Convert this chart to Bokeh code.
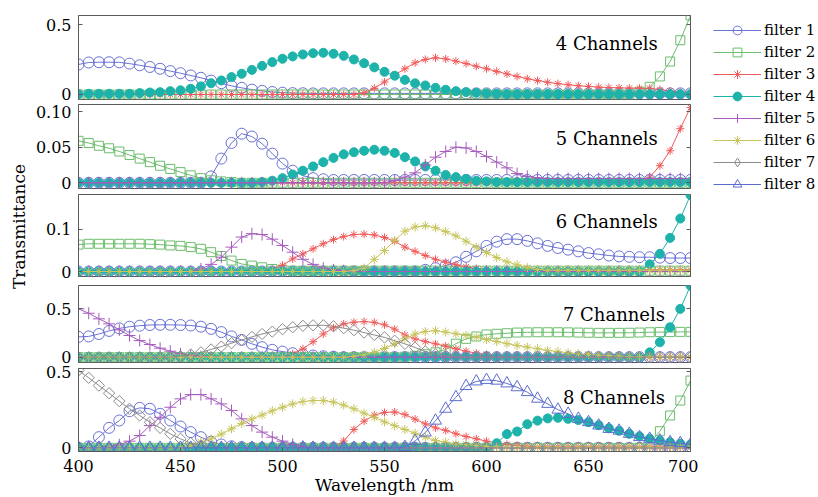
from math import pi
from bokeh.plotting import figure
from bokeh.models import Range1d, FixedTicker, Label, Legend, LegendItem, LinearAxis
from bokeh.layouts import row, column
from bokeh.embed import file_html
from bokeh.resources import INLINE

wavelength = [400, 405, 410, 415, 420, 425, 430, 435, 440, 445,
              450, 455, 460, 465, 470, 475, 480, 485, 490, 495,
              500, 505, 510, 515, 520, 525, 530, 535, 540, 545,
              550, 555, 560, 565, 570, 575, 580, 585, 590, 595,
              600, 605, 610, 615, 620, 625, 630, 635, 640, 645,
              650, 655, 660, 665, 670, 675, 680, 685, 690, 695,
              700]

# ---------------- 4 Channels ----------------
ch4_f1 = [0.216, 0.230, 0.232, 0.232, 0.231, 0.222, 0.210, 0.198, 0.185, 0.168,
          0.153, 0.137, 0.120, 0.100, 0.081, 0.062, 0.048, 0.035, 0.026, 0.018,
          0.013, 0.010, 0.009, 0.008, 0.008, 0.008, 0.008, 0.008, 0.008, 0.008,
          0.008, 0.008, 0.008, 0.008, 0.008, 0.008, 0.008, 0.008, 0.008, 0.008,
          0.008, 0.008, 0.008, 0.008, 0.008, 0.008, 0.008, 0.008, 0.008, 0.008,
          0.008, 0.008, 0.008, 0.008, 0.008, 0.008, 0.008, 0.008, 0.008, 0.008,
          0.008]
ch4_f2 = [0, 0, 0, 0, 0, 0, 0, 0, 0, 0,
          0, 0, 0, 0, 0, 0, 0, 0, 0, 0,
          0, 0, 0, 0, 0, 0, 0, 0, 0, 0,
          0, 0, 0, 0, 0, 0, 0, 0, 0, 0,
          0, 0, 0, 0, 0, 0, 0, 0, 0, 0,
          0, 0, 0, 0, 0, 0.020, 0.055, 0.130, 0.237, 0.390,
          0.568]
ch4_f3 = [0, 0, 0, 0, 0, 0, 0, 0, 0, 0,
          0, 0, 0, 0, 0, 0, 0, 0, 0, 0,
          0, 0, 0, 0, 0, 0, 0, 0, 0.012, 0.045,
          0.090, 0.140, 0.185, 0.228, 0.252, 0.264, 0.256, 0.240, 0.222, 0.203,
          0.185, 0.166, 0.148, 0.130, 0.113, 0.100, 0.088, 0.078, 0.070, 0.063,
          0.058, 0.053, 0.050, 0.048, 0.046, 0.045, 0.044, 0.035, 0.025, 0.015,
          0.010]
ch4_f4 = [0.003, 0.005, 0.005, 0.005, 0.005, 0.005, 0.010, 0.014, 0.017, 0.024,
          0.030, 0.041, 0.058, 0.081, 0.101, 0.125, 0.149, 0.177, 0.206, 0.233,
          0.257, 0.274, 0.288, 0.297, 0.300, 0.293, 0.278, 0.252, 0.225, 0.195,
          0.163, 0.135, 0.105, 0.080, 0.065, 0.048, 0.034, 0.024, 0.017, 0.012,
          0.008, 0.005, 0.003, 0.003, 0.003, 0.003, 0.003, 0.003, 0.003, 0.003,
          0.003, 0.003, 0.003, 0.003, 0.003, 0.003, 0.003, 0.003, 0.003, 0.003,
          0.003]

# ---------------- 5 Channels ----------------
ch5_f1 = [0, 0, 0, 0, 0, 0, 0, 0, 0, 0,
          0, 0, 0, 0.009, 0.034, 0.056, 0.069, 0.065, 0.055, 0.041,
          0.027, 0.017, 0.010, 0.0065, 0.005, 0.004, 0.004, 0.004, 0.004, 0.004,
          0.004, 0.004, 0.004, 0.004, 0.004, 0.004, 0.004, 0.004, 0.004, 0.004,
          0.004, 0.004, 0.004, 0.004, 0.004, 0.004, 0.004, 0.004, 0.004, 0.004,
          0.004, 0.004, 0.004, 0.004, 0.004, 0.004, 0.004, 0.004, 0.004, 0.004,
          0.004]
ch5_f2 = [0.059, 0.056, 0.052, 0.0485, 0.044, 0.039, 0.034, 0.029, 0.024, 0.0195,
          0.015, 0.0105, 0.0065, 0.0035, 0.002, 0.001, 0, 0, 0, 0,
          0, 0, 0, 0, 0, 0, 0, 0, 0, 0,
          0, 0, 0, 0, 0, 0, 0, 0, 0, 0,
          0, 0, 0, 0, 0, 0, 0, 0, 0, 0,
          0, 0, 0, 0, 0, 0, 0, 0, 0, 0,
          0]
ch5_f3 = [0, 0, 0, 0, 0, 0, 0, 0, 0, 0,
          0, 0, 0, 0, 0, 0, 0, 0, 0, 0,
          0, 0, 0, 0, 0, 0, 0, 0, 0, 0,
          0, 0, 0, 0, 0, 0, 0, 0, 0, 0,
          0, 0, 0, 0, 0, 0, 0, 0, 0, 0,
          0, 0, 0, 0, 0, 0.002, 0.008, 0.024, 0.045, 0.076,
          0.106]
ch5_f4 = [0, 0, 0, 0, 0, 0, 0, 0, 0, 0,
          0, 0, 0, 0, 0, 0, 0, 0, 0.001, 0.003,
          0.0065, 0.0117, 0.017, 0.023, 0.029, 0.035, 0.040, 0.043, 0.045, 0.0465,
          0.045, 0.042, 0.036, 0.030, 0.023, 0.017, 0.011, 0.008, 0.0055, 0.003,
          0.002, 0.001, 0.001, 0.001, 0.001, 0.001, 0.001, 0.001, 0.001, 0.001,
          0.001, 0.001, 0.001, 0.001, 0.001, 0.001, 0.001, 0.001, 0.001, 0.001,
          0.001]
ch5_f5 = [0, 0, 0, 0, 0, 0, 0, 0, 0, 0,
          0, 0, 0, 0, 0, 0, 0, 0, 0, 0,
          0, 0, 0, 0, 0, 0, 0, 0, 0, 0,
          0, 0.003, 0.008, 0.014, 0.025, 0.036, 0.044, 0.050, 0.049, 0.044,
          0.037, 0.029, 0.021, 0.013, 0.009, 0.007, 0.006, 0.006, 0.006, 0.006,
          0.006, 0.006, 0.006, 0.006, 0.006, 0.006, 0.006, 0.006, 0.006, 0.006,
          0.006]

# ---------------- 6 Channels ----------------
ch6_f1 = [0, 0, 0, 0, 0, 0, 0, 0, 0, 0,
          0, 0, 0, 0, 0, 0, 0, 0, 0, 0,
          0, 0, 0, 0, 0, 0, 0, 0, 0, 0,
          0, 0, 0, 0, 0.004, 0.008, 0.014, 0.022, 0.035, 0.048,
          0.061, 0.071, 0.077, 0.077, 0.073, 0.067, 0.061, 0.056, 0.052, 0.048,
          0.044, 0.041, 0.038, 0.036, 0.035, 0.034, 0.034, 0.033, 0.032, 0.032,
          0.032]
ch6_f2 = [0.064, 0.066, 0.066, 0.066, 0.066, 0.066, 0.066, 0.065, 0.064, 0.062,
          0.061, 0.058, 0.054, 0.046, 0.037, 0.026, 0.018, 0.014, 0.010, 0.006,
          0.004, 0.002, 0.002, 0.002, 0.002, 0.002, 0.002, 0.002, 0.002, 0.002,
          0.002, 0.002, 0.002, 0.002, 0.002, 0.002, 0.002, 0.002, 0.002, 0.002,
          0.002, 0.002, 0.002, 0.002, 0.002, 0.002, 0.002, 0.002, 0.002, 0.002,
          0.002, 0.002, 0.002, 0.002, 0.002, 0.002, 0.002, 0.002, 0.002, 0.002,
          0.002]
ch6_f3 = [0, 0, 0, 0, 0, 0, 0, 0, 0, 0,
          0, 0, 0, 0, 0, 0, 0, 0, 0, 0.005,
          0.015, 0.030, 0.042, 0.054, 0.066, 0.076, 0.083, 0.088, 0.089, 0.087,
          0.081, 0.072, 0.058, 0.048, 0.038, 0.029, 0.022, 0.016, 0.011, 0.007,
          0.005, 0.004, 0.004, 0.004, 0.004, 0.004, 0.004, 0.004, 0.004, 0.004,
          0.004, 0.004, 0.004, 0.004, 0.004, 0.004, 0.004, 0.004, 0.004, 0.004,
          0.004]
ch6_f4 = [0, 0, 0, 0, 0, 0, 0, 0, 0, 0,
          0, 0, 0, 0, 0, 0, 0, 0, 0, 0,
          0, 0, 0, 0, 0, 0, 0, 0, 0, 0,
          0, 0, 0, 0, 0, 0, 0, 0, 0, 0,
          0, 0, 0, 0, 0, 0, 0, 0, 0, 0,
          0, 0, 0, 0, 0, 0, 0.017, 0.042, 0.080, 0.126,
          0.182]
ch6_f5 = [0, 0, 0, 0, 0, 0, 0, 0, 0, 0,
          0, 0, 0.006, 0.017, 0.034, 0.058, 0.082, 0.090, 0.088, 0.077,
          0.062, 0.046, 0.029, 0.017, 0.008, 0.004, 0.002, 0, 0, 0,
          0, 0, 0, 0, 0, 0, 0, 0, 0, 0,
          0, 0, 0, 0, 0, 0, 0, 0, 0, 0,
          0, 0, 0, 0, 0, 0, 0, 0, 0, 0,
          0]
ch6_f6 = [0, 0, 0, 0, 0, 0, 0, 0, 0, 0,
          0, 0, 0, 0, 0, 0, 0, 0, 0, 0,
          0, 0, 0, 0, 0, 0, 0, 0.002, 0.008, 0.029,
          0.050, 0.074, 0.096, 0.106, 0.109, 0.104, 0.095, 0.085, 0.072, 0.058,
          0.045, 0.033, 0.023, 0.016, 0.009, 0.005, 0.003, 0.003, 0.003, 0.003,
          0.003, 0.003, 0.003, 0.003, 0.003, 0.003, 0.003, 0.003, 0.003, 0.003,
          0.003]

# ---------------- 7 Channels ----------------
ch7_f1 = [0.210, 0.215, 0.240, 0.272, 0.298, 0.315, 0.326, 0.333, 0.335, 0.335,
          0.333, 0.328, 0.316, 0.293, 0.260, 0.215, 0.179, 0.138, 0.104, 0.076,
          0.058, 0.041, 0.028, 0.017, 0.010, 0.005, 0, 0, 0, 0,
          0, 0, 0, 0, 0, 0, 0, 0, 0, 0,
          0, 0, 0, 0, 0, 0, 0, 0, 0, 0,
          0, 0, 0, 0, 0, 0, 0, 0, 0, 0,
          0]
ch7_f2 = [0, 0, 0, 0, 0, 0, 0, 0, 0, 0,
          0, 0, 0, 0, 0, 0, 0, 0, 0, 0,
          0, 0, 0, 0, 0, 0, 0, 0, 0, 0,
          0, 0, 0.005, 0.015, 0.030, 0.050, 0.080, 0.140, 0.190, 0.214,
          0.235, 0.242, 0.248, 0.255, 0.257, 0.258, 0.258, 0.258, 0.257, 0.255,
          0.253, 0.252, 0.252, 0.252, 0.253, 0.255, 0.258, 0.260, 0.260, 0.262,
          0.262]
ch7_f3 = [0, 0, 0, 0, 0, 0, 0, 0, 0, 0,
          0, 0, 0, 0, 0, 0, 0, 0, 0, 0,
          0, 0.035, 0.086, 0.160, 0.240, 0.305, 0.345, 0.362, 0.369, 0.360,
          0.335, 0.290, 0.230, 0.190, 0.162, 0.138, 0.114, 0.086, 0.062, 0.041,
          0.028, 0.017, 0.008, 0.003, 0, 0, 0, 0, 0, 0,
          0, 0, 0, 0, 0, 0, 0, 0, 0, 0,
          0]
ch7_f4 = [0, 0, 0, 0, 0, 0, 0, 0, 0, 0,
          0, 0, 0, 0, 0, 0, 0, 0, 0, 0,
          0, 0, 0, 0, 0, 0, 0, 0, 0, 0,
          0, 0, 0, 0, 0, 0, 0, 0, 0, 0,
          0, 0, 0, 0, 0, 0, 0, 0, 0, 0,
          0, 0, 0, 0, 0, 0, 0.050, 0.155, 0.310, 0.500,
          0.740]
ch7_f5 = [0.500, 0.455, 0.397, 0.345, 0.283, 0.224, 0.172, 0.131, 0.093, 0.062,
          0.035, 0.017, 0.007, 0, 0, 0, 0, 0, 0, 0,
          0, 0, 0, 0, 0, 0, 0, 0, 0, 0,
          0, 0, 0, 0, 0, 0, 0, 0, 0, 0,
          0, 0, 0, 0, 0, 0, 0, 0, 0, 0,
          0, 0, 0, 0, 0, 0, 0, 0, 0, 0,
          0]
ch7_f6 = [0, 0, 0, 0, 0, 0, 0, 0, 0, 0,
          0, 0, 0, 0, 0, 0, 0, 0, 0, 0,
          0, 0, 0, 0, 0, 0, 0, 0.010, 0.025, 0.050,
          0.090, 0.140, 0.190, 0.240, 0.265, 0.274, 0.260, 0.242, 0.225, 0.208,
          0.182, 0.163, 0.140, 0.121, 0.104, 0.087, 0.070, 0.058, 0.045, 0.036,
          0.028, 0.021, 0.016, 0.010, 0.006, 0.003, 0.003, 0.003, 0.003, 0.003,
          0.003]
ch7_f7 = [0, 0, 0, 0, 0, 0, 0, 0, 0, 0,
          0.010, 0.028, 0.050, 0.080, 0.110, 0.145, 0.178, 0.210, 0.240, 0.265,
          0.290, 0.310, 0.325, 0.330, 0.330, 0.320, 0.300, 0.280, 0.255, 0.230,
          0.205, 0.170, 0.138, 0.100, 0.060, 0.030, 0.015, 0.006, 0, 0,
          0, 0, 0, 0, 0, 0, 0, 0, 0, 0,
          0, 0, 0, 0, 0, 0, 0, 0, 0, 0,
          0]

# ---------------- 8 Channels ----------------
ch8_f1 = [0, 0.009, 0.070, 0.131, 0.179, 0.240, 0.262, 0.256, 0.223, 0.179,
          0.140, 0.103, 0.070, 0.040, 0.022, 0.010, 0.004, 0, 0, 0,
          0, 0, 0, 0, 0, 0, 0, 0, 0, 0,
          0, 0, 0, 0, 0, 0, 0, 0, 0, 0,
          0, 0, 0, 0, 0, 0, 0, 0, 0, 0,
          0, 0, 0, 0, 0, 0, 0, 0, 0, 0,
          0]
ch8_f2 = [0, 0, 0, 0, 0, 0, 0, 0, 0, 0,
          0, 0, 0, 0, 0, 0, 0, 0, 0, 0,
          0, 0, 0, 0, 0, 0, 0, 0, 0, 0,
          0, 0, 0, 0, 0, 0, 0, 0, 0, 0,
          0, 0, 0, 0, 0, 0, 0, 0, 0, 0,
          0, 0, 0, 0, 0, 0, 0.030, 0.109, 0.212, 0.310,
          0.441]
ch8_f3 = [0, 0, 0, 0, 0, 0, 0, 0, 0, 0,
          0, 0, 0, 0, 0, 0, 0, 0, 0, 0,
          0, 0, 0, 0, 0, 0.005, 0.045, 0.120, 0.175, 0.215,
          0.232, 0.235, 0.218, 0.188, 0.157, 0.131, 0.114, 0.092, 0.074, 0.059,
          0.044, 0.031, 0.022, 0.015, 0.010, 0.006, 0.006, 0.006, 0.006, 0.006,
          0.006, 0.006, 0.006, 0.006, 0.006, 0.006, 0.006, 0.006, 0.006, 0.006,
          0.006]
ch8_f4 = [0, 0, 0, 0, 0, 0, 0, 0, 0, 0,
          0, 0, 0, 0, 0, 0, 0, 0, 0, 0,
          0, 0, 0, 0, 0, 0, 0, 0, 0, 0,
          0, 0, 0, 0, 0, 0, 0, 0, 0, 0,
          0, 0.030, 0.090, 0.107, 0.155, 0.178, 0.193, 0.197, 0.190, 0.182,
          0.168, 0.148, 0.128, 0.112, 0.092, 0.075, 0.060, 0.047, 0.037, 0.028,
          0.022]
ch8_f5 = [0, 0, 0, 0.005, 0.020, 0.044, 0.081, 0.146, 0.200, 0.266,
          0.321, 0.349, 0.349, 0.321, 0.288, 0.245, 0.190, 0.146, 0.103, 0.070,
          0.044, 0.022, 0.009, 0, 0, 0, 0, 0, 0, 0,
          0, 0, 0, 0, 0, 0, 0, 0, 0, 0,
          0, 0, 0, 0, 0, 0, 0, 0, 0, 0,
          0, 0, 0, 0, 0, 0, 0, 0, 0, 0,
          0]
ch8_f6 = [0, 0, 0, 0, 0, 0, 0, 0, 0, 0,
          0, 0.015, 0.037, 0.059, 0.090, 0.125, 0.160, 0.190, 0.215, 0.243,
          0.266, 0.288, 0.303, 0.310, 0.310, 0.300, 0.280, 0.256, 0.227, 0.200,
          0.170, 0.145, 0.120, 0.095, 0.070, 0.048, 0.037, 0.026, 0.022, 0.015,
          0.010, 0.006, 0.003, 0.003, 0.003, 0.003, 0.003, 0.003, 0.003, 0.003,
          0.003, 0.003, 0.003, 0.003, 0.003, 0.003, 0.003, 0.003, 0.003, 0.003,
          0.003]
ch8_f7 = [0.507, 0.459, 0.408, 0.358, 0.306, 0.256, 0.212, 0.168, 0.131, 0.092,
          0.059, 0.031, 0.015, 0.005, 0, 0, 0, 0, 0, 0,
          0, 0, 0, 0, 0, 0, 0, 0, 0, 0,
          0, 0, 0, 0, 0, 0, 0, 0, 0, 0,
          0, 0, 0, 0, 0, 0, 0, 0, 0, 0,
          0, 0, 0, 0, 0, 0, 0, 0, 0, 0,
          0]
ch8_f8 = [0, 0, 0, 0, 0, 0, 0, 0, 0, 0,
          0, 0, 0, 0, 0, 0, 0, 0, 0, 0,
          0, 0, 0, 0, 0, 0, 0, 0, 0, 0,
          0, 0, 0.005, 0.045, 0.100, 0.178, 0.256, 0.332, 0.405, 0.435,
          0.445, 0.440, 0.422, 0.397, 0.365, 0.322, 0.288, 0.250, 0.223, 0.190,
          0.168, 0.146, 0.124, 0.112, 0.092, 0.070, 0.059, 0.048, 0.037, 0.031,
          0.022]

filter_names = ["filter 1", "filter 2", "filter 3", "filter 4",
                "filter 5", "filter 6", "filter 7", "filter 8"]
panel_titles = ["4 Channels", "5 Channels", "6 Channels", "7 Channels", "8 Channels"]
panel_series = [
    [ch4_f1, ch4_f2, ch4_f3, ch4_f4],
    [ch5_f1, ch5_f2, ch5_f3, ch5_f4, ch5_f5],
    [ch6_f1, ch6_f2, ch6_f3, ch6_f4, ch6_f5, ch6_f6],
    [ch7_f1, ch7_f2, ch7_f3, ch7_f4, ch7_f5, ch7_f6, ch7_f7],
    [ch8_f1, ch8_f2, ch8_f3, ch8_f4, ch8_f5, ch8_f6, ch8_f7, ch8_f8],
]
y_ticks = [[0, 0.5], [0, 0.05, 0.1], [0, 0.1], [0, 0.5], [0, 0.5]]
y_tick_labels = [["0", "0.5"], ["0", "0.05", "0.10"], ["0", "0.1"], ["0", "0.5"], ["0", "0.5"]]
x_ticks = [400, 450, 500, 550, 600, 650, 700]

for s in panel_series:
    for a in s:
        assert len(a) == len(wavelength)

# ---------------- styles ----------------
COLORS = ["#6a72d4", "#6cbd6c", "#f05a5a", "#1db3ab", "#a65cbd", "#c6c45a", "#8c8c8c", "#5d6dcf"]
STYLES = [
    dict(marker="circle", size=11, filled=False, angle=0.0, leg="circle"),
    dict(marker="square", size=9, filled=False, angle=0.0, leg="square"),
    dict(marker="asterisk", size=8, filled=False, angle=0.0, leg="asterisk"),
    dict(marker="circle", size=9, filled=True, angle=0.0, leg="circle"),
    dict(marker="cross", size=12, filled=False, angle=0.0, leg="cross"),
    dict(marker="asterisk", size=9, filled=False, angle=0.0, leg="asterisk"),
    dict(marker="square", size=8, filled=False, angle=pi / 4, leg="diamond"),
    dict(marker="triangle", size=12, filled=False, angle=0.0, leg="triangle"),
]
FONT = "DejaVu Serif"
FRAME_C = "#5a5a5a"

# panel geometry (page pixels): frame top, frame height, y range
PAD = 12
frames = [(15, 84), (104, 84), (194, 82), (285, 77), (368, 83)]
y_ranges = [(-0.036, 0.568), (-0.008, 0.110), (-0.0119, 0.1833), (-0.055, 0.742), (-0.024, 0.520)]
BOTTOM_LAST = 46
# annotation positions (data units): right edge x, baseline y
title_pos = [(684, 0.365), (684, 0.0618), (684, 0.119), (687.5, 0.439), (687.5, 0.332)]

LEFT_STRIP = 32
LEFT, FRAME_W, RIGHT = 45, 613, 8
PW = LEFT + FRAME_W + RIGHT
TOTAL_H = frames[-1][0] + frames[-1][1] + BOTTOM_LAST


def style_axis(ax):
    ax.major_tick_in = 4
    ax.major_tick_out = 0
    ax.minor_tick_line_color = None
    ax.axis_line_color = FRAME_C
    ax.major_tick_line_color = FRAME_C
    ax.major_label_text_font = FONT
    ax.major_label_text_font_size = "16px"
    ax.major_label_text_color = "black"


panels = []
prev_bottom = 0
for i in range(5):
    ftop, fh = frames[i]
    y0, y1 = y_ranges[i]
    last = (i == 4)
    bt = ftop if i == 0 else PAD
    bb = BOTTOM_LAST if last else PAD
    fig_top = ftop - bt
    p = figure(width=PW, height=bt + fh + bb,
               x_range=Range1d(400, 700), y_range=Range1d(y0, y1),
               output_backend="svg", toolbar_location=None,
               x_axis_location="below" if last else None,
               min_border_left=LEFT, min_border_right=RIGHT,
               min_border_top=bt, min_border_bottom=bb,
               margin=(fig_top - prev_bottom, 0, 0, 0))
    prev_bottom = fig_top + bt + fh + bb
    p.border_fill_alpha = 0
    p.grid.visible = False
    p.outline_line_color = FRAME_C
    p.outline_line_width = 1
    ya = p.yaxis[0]
    ya.ticker = FixedTicker(ticks=y_ticks[i])
    ya.major_label_overrides = {t: l for t, l in zip(y_ticks[i], y_tick_labels[i])}
    style_axis(ya)
    ya.major_label_standoff = 7
    # mirrored inward ticks on the right side (no labels)
    ra = LinearAxis(ticker=FixedTicker(ticks=y_ticks[i]),
                    major_label_overrides={t: "" for t in y_ticks[i]})
    style_axis(ra)
    ra.major_label_text_color = None
    ra.major_label_standoff = 0
    p.add_layout(ra, "right")
    if last:
        xa = p.xaxis[0]
        xa.ticker = FixedTicker(ticks=x_ticks)
        style_axis(xa)
        xa.major_label_standoff = 8
        xa.axis_label = "Wavelength /nm"
        xa.axis_label_text_font = FONT
        xa.axis_label_text_font_size = "17px"
        xa.axis_label_text_font_style = "normal"
        xa.axis_label_text_color = "black"
        xa.axis_label_standoff = 0

    for j, ys in enumerate(panel_series[i]):
        st = STYLES[j]
        c = COLORS[j]
        p.line(wavelength, ys, line_color=c, line_width=1)
        p.scatter(wavelength, ys, marker=st["marker"], size=st["size"], angle=st["angle"],
                  line_color=c, line_width=1,
                  fill_color=c if st["filled"] else None)

    tx, ty = title_pos[i]
    p.add_layout(Label(x=tx, y=ty, text=panel_titles[i], text_align="right",
                       text_baseline="alphabetic", text_font=FONT,
                       text_font_size="18px", text_color="black"))
    panels.append(p)

# y axis title strip
lab = figure(width=LEFT_STRIP, height=TOTAL_H, x_range=Range1d(0, 1), y_range=Range1d(0, 1),
             output_backend="svg", toolbar_location=None,
             x_axis_location=None, y_axis_location=None, min_border=0)
lab.grid.visible = False
lab.outline_line_color = None
lab.add_layout(Label(x=18, y=TOTAL_H - 226, x_units="screen", y_units="screen",
                     text="Transmittance", angle=pi / 2, text_align="center",
                     text_baseline="middle", text_font=FONT, text_font_size="17px",
                     text_color="black"))

# legend strip
LEG_W = 818 - LEFT_STRIP - PW
leg = figure(width=LEG_W, height=TOTAL_H, x_range=Range1d(0, 1), y_range=Range1d(0, 1),
             output_backend="svg", toolbar_location=None,
             x_axis_location=None, y_axis_location=None, min_border=0)
leg.grid.visible = False
leg.outline_line_color = None
items = []
for j in range(8):
    st = STYLES[j]
    c = COLORS[j]
    rl = leg.line([-5, -4], [-5, -4], line_color=c, line_width=1)
    rs = leg.scatter([-5], [-5], marker=st["leg"], size=st["size"],
                     line_color=c, line_width=1, fill_color=c if st["filled"] else None)
    items.append(LegendItem(label=filter_names[j], renderers=[rl, rs]))
legend = Legend(items=items, location=(15, TOTAL_H - 195), glyph_width=48, glyph_height=22,
                label_height=22, spacing=0, padding=0, margin=0, label_standoff=3,
                border_line_color=None, background_fill_alpha=0,
                label_text_font=FONT, label_text_font_size="15px", label_text_color="black")
leg.add_layout(legend)

layout = row(lab, column(*panels), leg)
open("out.html", "w").write(file_html(layout, INLINE))
